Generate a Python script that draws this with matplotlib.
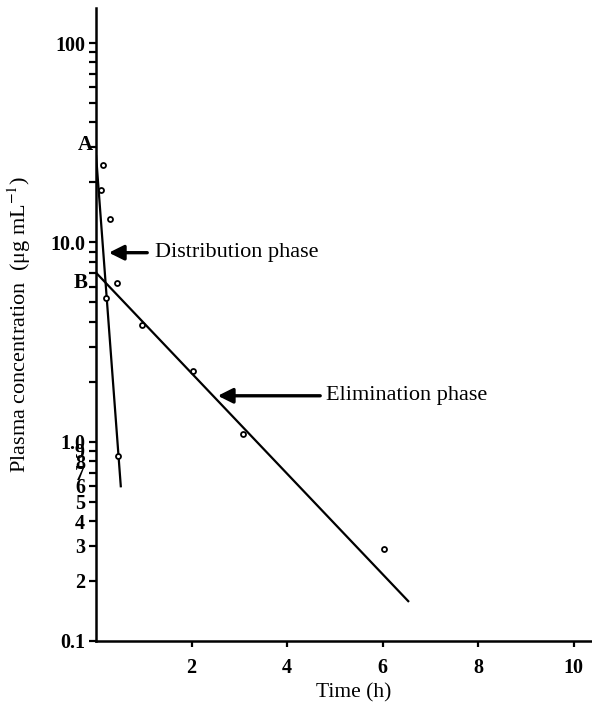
import matplotlib
matplotlib.use("Agg")
import matplotlib.pyplot as plt
from matplotlib.ticker import FixedLocator, FixedFormatter

plt.rcParams['font.family'] = ['Liberation Serif', 'DejaVu Serif']
plt.rcParams['mathtext.fontset'] = 'stix'

# Observed plasma concentrations
time_h = [0.10, 0.15, 0.21, 0.29, 0.43, 0.47, 0.96, 2.04, 3.07, 6.02]
conc = [18.3, 24.5, 5.26, 13.1, 6.28, 0.85, 3.85, 2.26, 1.09, 0.29]

# Fitted lines (distribution and elimination phases)
dist_t = [0.0, 0.52]
dist_c = [27.5, 0.59]
elim_t = [0.0, 6.55]
elim_c = [7.05, 0.157]

# Axis ticks
x_ticks = [2, 4, 6, 8, 10]
x_labels = ['2', '4', '6', '8', '10']
y_major = [0.1, 1, 10, 100]
y_major_labels = ['0.1', '1.0', '10.0', '100']
y_minor = [0.2, 0.3, 0.4, 0.5, 0.6, 0.7, 0.8, 0.9,
           2, 3, 4, 5, 6, 7, 8, 9,
           20, 30, 40, 50, 60, 70, 80, 90]
y_minor_labels = ['2', '3', '4', '5', '6', '7', '8', '9'] + [''] * 16

fig = plt.figure(figsize=(5.92, 7.04), dpi=100)
ax = fig.add_axes([0.1622, 0.0895, 0.8378, 0.8991])

ax.plot(dist_t, dist_c, color='black', lw=1.6, solid_capstyle='butt')
ax.plot(elim_t, elim_c, color='black', lw=1.6, solid_capstyle='butt')
ax.plot(time_h, conc, linestyle='none', marker='o', markersize=3.6,
        markerfacecolor='white', markeredgecolor='black', markeredgewidth=1.3)

ax.set_yscale('log')
ax.set_xlim(0, 10.38)
ax.set_ylim(0.1, 150)

ax.yaxis.set_major_locator(FixedLocator(y_major))
ax.yaxis.set_major_formatter(FixedFormatter(y_major_labels))
ax.yaxis.set_minor_locator(FixedLocator(y_minor))
ax.yaxis.set_minor_formatter(FixedFormatter(y_minor_labels))
ax.xaxis.set_major_locator(FixedLocator(x_ticks))
ax.xaxis.set_major_formatter(FixedFormatter(x_labels))

for s in ['top', 'right']:
    ax.spines[s].set_visible(False)
for s in ['left', 'bottom']:
    ax.spines[s].set_linewidth(1.8)

ax.tick_params(axis='y', which='both', direction='out', length=5, width=1.6,
               labelsize=14.5, pad=3)
ax.tick_params(axis='x', which='both', direction='out', length=4, width=1.6,
               labelsize=14.5, pad=8)
for lab in ax.get_yticklabels(which='both') + ax.get_xticklabels():
    lab.set_fontweight('bold')

ax.set_xlabel('Time (h)', fontsize=15.5)
ax.xaxis.set_label_coords(0.52, -0.067)
ax.set_ylabel('Plasma concentration  (μg mL$^{-1}$)', fontsize=16)
ax.yaxis.set_label_coords(-0.128, 0.5)

# Annotations
ax.annotate('', xy=(0.21, 8.88), xytext=(1.13, 8.88),
            arrowprops=dict(arrowstyle='-|>,head_length=0.9,head_width=0.45',
                            color='black', lw=2.4))
ax.text(1.23, 8.88, 'Distribution phase', fontsize=16, va='center', ha='left')
ax.annotate('', xy=(2.49, 1.70), xytext=(4.75, 1.70),
            arrowprops=dict(arrowstyle='-|>,head_length=0.9,head_width=0.45',
                            color='black', lw=2.4))
ax.text(4.82, 1.70, 'Elimination phase', fontsize=16, va='center', ha='left')

ax.text(-0.23, 30.8, 'A', fontsize=15, fontweight='bold', ha='center',
        va='center', clip_on=False)
ax.text(-0.33, 6.26, 'B', fontsize=15, fontweight='bold', ha='center',
        va='center', clip_on=False)

fig.savefig('out.png', dpi=100)
